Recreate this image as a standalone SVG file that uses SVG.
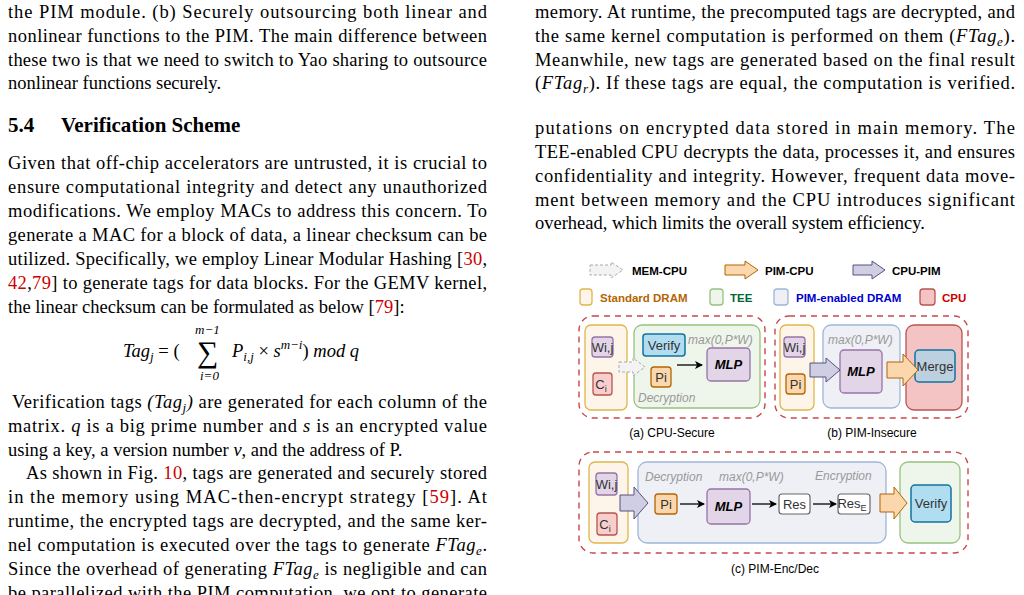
<svg xmlns="http://www.w3.org/2000/svg" width="1024" height="595" viewBox="0 0 1024 595">
<style>
.t{font-family:"Liberation Serif",serif;font-size:18.5px;fill:#000}
.h{font-family:"Liberation Serif",serif;font-size:21px;font-weight:bold}
.r{fill:#cc0000}
.s{font-family:"Liberation Sans",Arial,sans-serif}
.lg{font-size:11.5px;font-weight:bold}
.bx{font-size:13px;fill:#333}
.gi{font-size:12px;font-style:italic;fill:#999}
.cap{font-size:12px;fill:#000}
.dram{fill:#fdf4ea;stroke:#e0b64a;stroke-width:1.3}
.tee{fill:#eef5ea;stroke:#97c27e;stroke-width:1.3}
.pim{fill:#eef0f6;stroke:#9fb5d8;stroke-width:1.3}
.cpu{fill:#f4c4c4;stroke:#b85450;stroke-width:1.3}
.pur{fill:#e1d5e7;stroke:#9673a6;stroke-width:1.3}
.red{fill:#f8cecc;stroke:#b85450;stroke-width:1.3}
.org{fill:#fad7ac;stroke:#b46504;stroke-width:1.3}
.blu{fill:#b1ddf0;stroke:#10739e;stroke-width:1.5}
.wht{fill:#fff;stroke:#666;stroke-width:1.2}
.outer{fill:none;stroke:#c9484b;stroke-width:1.4;stroke-dasharray:6 5}
.ag{fill:#f3f3f3;stroke:#aaa;stroke-dasharray:3 2}
.ao{fill:#fad7ac;stroke:#b46504}
.ap{fill:#d0cee2;stroke:#56517e}
.ln{stroke:#000;stroke-width:1.3;fill:none}
</style>
<defs><marker id="m" markerWidth="8" markerHeight="8" refX="7" refY="4" orient="auto" markerUnits="userSpaceOnUse"><path d="M0,0 L8,4 L0,8 L2,4 Z" fill="#000"/></marker></defs>
<rect width="1024" height="595" fill="#fff"/>

<g id="left-text">
<text class="t" x="8" y="18" textLength="479" lengthAdjust="spacing">the PIM module. (b) Securely outsourcing both linear and</text>
<text class="t" x="8" y="42" textLength="479" lengthAdjust="spacing">nonlinear functions to the PIM. The main difference between</text>
<text class="t" x="8" y="66" textLength="479" lengthAdjust="spacing">these two is that we need to switch to Yao sharing to outsource</text>
<text class="t" x="8" y="89">nonlinear functions securely.</text>
<text class="h" x="8" y="132">5.4</text><text class="h" x="61" y="132">Verification Scheme</text>
<text class="t" x="8" y="169" textLength="479" lengthAdjust="spacing">Given that off-chip accelerators are untrusted, it is crucial to</text>
<text class="t" x="8" y="193" textLength="479" lengthAdjust="spacing">ensure computational integrity and detect any unauthorized</text>
<text class="t" x="8" y="217" textLength="479" lengthAdjust="spacing">modifications. We employ MACs to address this concern. To</text>
<text class="t" x="8" y="241" textLength="479" lengthAdjust="spacing">generate a MAC for a block of data, a linear checksum can be</text>
<text class="t" x="8" y="265" textLength="479" lengthAdjust="spacing">utilized. Specifically, we employ Linear Modular Hashing [<tspan class="r">30</tspan>,</text>
<text class="t" x="8" y="289" textLength="479" lengthAdjust="spacing"><tspan class="r">42</tspan>,<tspan class="r">79</tspan>] to generate tags for data blocks. For the GEMV kernel,</text>
<text class="t" x="8" y="313">the linear checksum can be formulated as below [<tspan class="r">79</tspan>]:</text>
<text class="t" x="123" y="357" font-style="italic">Tag<tspan font-size="13" dy="4">j</tspan><tspan dy="-4" font-style="normal"> = (</tspan></text>
<text class="t" x="197" y="362" style="font-size:30px">∑</text>
<text class="t" x="195" y="334" style="font-size:13px;font-style:italic">m−1</text>
<text class="t" x="200" y="380" style="font-size:13px;font-style:italic">i=0</text>
<text class="t" x="232" y="357"><tspan font-style="italic">P</tspan><tspan font-size="13" font-style="italic" dy="4">i,j</tspan><tspan dy="-4"> × </tspan><tspan font-style="italic">s</tspan><tspan font-size="13" font-style="italic" dy="-8">m−i</tspan><tspan dy="8">) </tspan><tspan font-style="italic">mod q</tspan></text>
<text class="t" x="12" y="408" textLength="475" lengthAdjust="spacing">Verification tags <tspan font-style="italic">(Tag</tspan><tspan font-style="italic" font-size="13" dy="4">j</tspan><tspan font-style="italic" dy="-4">)</tspan> are generated for each column of the</text>
<text class="t" x="8" y="432" textLength="479" lengthAdjust="spacing">matrix. <tspan font-style="italic">q</tspan> is a big prime number and <tspan font-style="italic">s</tspan> is an encrypted value</text>
<text class="t" x="8" y="456">using a key, a version number <tspan font-style="italic">v</tspan>, and the address of P.</text>
<text class="t" x="26" y="479" textLength="461" lengthAdjust="spacing">As shown in Fig. <tspan class="r">10</tspan>, tags are generated and securely stored</text>
<text class="t" x="8" y="503" textLength="479" lengthAdjust="spacing">in the memory using MAC-then-encrypt strategy [<tspan class="r">59</tspan>]. At</text>
<text class="t" x="8" y="527" textLength="479" lengthAdjust="spacing">runtime, the encrypted tags are decrypted, and the same ker-</text>
<text class="t" x="8" y="551" textLength="479" lengthAdjust="spacing">nel computation is executed over the tags to generate <tspan font-style="italic">FTag</tspan><tspan font-style="italic" font-size="13" dy="4">e</tspan><tspan dy="-4">.</tspan></text>
<text class="t" x="8" y="575" textLength="479" lengthAdjust="spacing">Since the overhead of generating <tspan font-style="italic">FTag</tspan><tspan font-style="italic" font-size="13" dy="4">e</tspan><tspan dy="-4"> is negligible and can</tspan></text>
<text class="t" x="8" y="599" textLength="479" lengthAdjust="spacing">be parallelized with the PIM computation, we opt to generate</text>
</g>

<g id="right-text">
<text class="t" x="535" y="18" textLength="480" lengthAdjust="spacing">memory. At runtime, the precomputed tags are decrypted, and</text>
<text class="t" x="535" y="42" textLength="480" lengthAdjust="spacing">the same kernel computation is performed on them (<tspan font-style="italic">FTag</tspan><tspan font-style="italic" font-size="13" dy="4">e</tspan><tspan dy="-4">).</tspan></text>
<text class="t" x="535" y="66" textLength="480" lengthAdjust="spacing">Meanwhile, new tags are generated based on the final result</text>
<text class="t" x="535" y="89" textLength="480" lengthAdjust="spacing">(<tspan font-style="italic">FTag</tspan><tspan font-style="italic" font-size="13" dy="4">r</tspan><tspan dy="-4">). If these tags are equal, the computation is verified.</tspan></text>
<text class="t" x="535" y="134" textLength="480" lengthAdjust="spacing">putations on encrypted data stored in main memory. The</text>
<text class="t" x="535" y="158" textLength="480" lengthAdjust="spacing">TEE-enabled CPU decrypts the data, processes it, and ensures</text>
<text class="t" x="535" y="182" textLength="480" lengthAdjust="spacing">confidentiality and integrity. However, frequent data move-</text>
<text class="t" x="535" y="206" textLength="480" lengthAdjust="spacing">ment between memory and the CPU introduces significant</text>
<text class="t" x="535" y="229">overhead, which limits the overall system efficiency.</text>
</g>

<g id="legend">
<path class="ag" d="M590,265 H611 V262 L623,270 L611,278 V275 H590 Z"/>
<text class="s lg" x="632" y="275">MEM-CPU</text>
<path class="ao" d="M725,265 H745 V261 L758,270 L745,279 V275 H725 Z"/>
<text class="s lg" x="765" y="275">PIM-CPU</text>
<path class="ap" d="M853,265 H872 V261 L885,270 L872,279 V275 H853 Z"/>
<text class="s lg" x="892" y="275">CPU-PIM</text>
<rect class="dram" x="580" y="289" width="12" height="16" rx="3"/>
<text class="s lg" x="600" y="302" fill="#b46504">Standard DRAM</text>
<rect class="tee" x="710" y="289" width="13" height="16" rx="3"/>
<text class="s lg" x="730" y="302" fill="#006633">TEE</text>
<rect class="pim" x="774" y="289" width="14" height="16" rx="3"/>
<text class="s lg" x="796" y="302" fill="#0000cc">PIM-enabled DRAM</text>
<rect class="cpu" x="920" y="289" width="15" height="16" rx="3"/>
<text class="s lg" x="942" y="302" fill="#cc0000">CPU</text>
</g>

<g id="panel-a">
<rect class="outer" x="579" y="316" width="186" height="102" rx="14"/>
<rect class="dram" x="585" y="325" width="42" height="85" rx="6"/>
<g id="a-wij"><rect class="pur" x="592" y="337" width="21" height="20" rx="3"/><text class="s bx" x="602.5" y="352" text-anchor="middle">Wi,j</text></g>
<g id="a-ci"><rect class="red" x="593" y="373" width="19" height="22" rx="3"/><text class="s bx" x="601" y="389" text-anchor="middle">C<tspan font-size="9" dy="3">i</tspan></text></g>
<rect class="tee" x="634" y="325" width="126" height="83" rx="8"/>
<g id="a-verify"><rect class="blu" x="643" y="334" width="42" height="22" rx="3"/><text class="s bx" x="664" y="350" text-anchor="middle">Verify</text></g>
<text class="s gi" x="688" y="344">max(0,P*W)</text>
<g id="a-pi"><rect class="org" x="651" y="367" width="20" height="20" rx="3"/><text class="s bx" x="661" y="382" text-anchor="middle">Pi</text></g>
<g id="a-mlp"><rect class="pur" x="707" y="348" width="43" height="33" rx="4"/><text class="s" x="728.5" y="369" text-anchor="middle" font-size="13" font-weight="bold" font-style="italic">MLP</text></g>
<text class="s gi" x="638" y="402">Decryption</text>
<text class="s cap" x="672" y="437" text-anchor="middle">(a) CPU-Secure</text>
</g>

<g id="panel-b">
<rect class="outer" x="775" y="316" width="193" height="102" rx="14"/>
<rect class="dram" x="780" y="325" width="34" height="85" rx="6"/>
<g id="b-wij"><rect class="pur" x="784" y="337" width="21" height="20" rx="3"/><text class="s bx" x="794.5" y="352" text-anchor="middle">Wi,j</text></g>
<g id="b-pi"><rect class="org" x="786" y="374" width="19" height="20" rx="3"/><text class="s bx" x="795.5" y="389" text-anchor="middle">Pi</text></g>
<rect class="pim" x="823" y="325" width="77" height="83" rx="8"/>
<text class="s gi" x="828" y="344">max(0,P*W)</text>
<g id="b-mlp"><rect class="pur" x="840" y="350" width="42" height="43" rx="4"/><text class="s" x="861" y="376" text-anchor="middle" font-size="13" font-weight="bold" font-style="italic">MLP</text></g>
<rect class="cpu" x="906" y="325" width="56" height="85" rx="8"/>
<g id="b-merge"><rect class="blu" x="915" y="350" width="40" height="32" rx="4" style="fill:#bcd0e0"/><text class="s bx" x="935" y="371" text-anchor="middle">Merge</text></g>
<text class="s cap" x="872" y="437" text-anchor="middle">(b) PIM-Insecure</text>
</g>

<g id="panel-c">
<rect class="outer" x="579" y="452" width="389" height="101" rx="14"/>
<rect class="dram" x="589" y="462" width="39" height="81" rx="6"/>
<g id="c-wij"><rect class="pur" x="596" y="473" width="21" height="22" rx="3"/><text class="s bx" x="606.5" y="489" text-anchor="middle">Wi,j</text></g>
<g id="c-ci"><rect class="red" x="597" y="513" width="20" height="22" rx="3"/><text class="s bx" x="605" y="529" text-anchor="middle">C<tspan font-size="9" dy="3">i</tspan></text></g>
<rect class="pim" x="638" y="462" width="248" height="81" rx="9"/>
<text class="s gi" x="645" y="481">Decryption</text>
<text class="s gi" x="719" y="481">max(0,P*W)</text>
<text class="s gi" x="815" y="480">Encryption</text>
<g id="c-pi"><rect class="org" x="655" y="494" width="22" height="20" rx="3"/><text class="s bx" x="666" y="509" text-anchor="middle">Pi</text></g>
<g id="c-mlp"><rect class="pur" x="707" y="489" width="43" height="35" rx="4"/><text class="s" x="728.5" y="511" text-anchor="middle" font-size="13" font-weight="bold" font-style="italic">MLP</text></g>
<g id="c-res"><rect class="wht" x="779" y="494" width="31" height="20" rx="3"/><text class="s bx" x="794.5" y="509" text-anchor="middle">Res</text></g>
<g id="c-rese"><rect class="wht" x="838" y="494" width="32" height="20" rx="3"/><text class="s bx" x="852" y="508" text-anchor="middle">Res<tspan font-size="9" dy="3">E</tspan></text></g>
<rect class="tee" x="900" y="462" width="60" height="81" rx="8"/>
<g id="c-verify"><rect class="blu" x="911" y="485" width="40" height="37" rx="4"/><text class="s bx" x="931" y="508" text-anchor="middle">Verify</text></g>
<text class="s cap" x="775" y="573" text-anchor="middle">(c) PIM-Enc/Dec</text>
</g>

<g id="connectors">
<path class="ag" d="M619,362 H633 V358 L645,367 L633,376 V372 H619 Z"/>
<line class="ln" x1="677" y1="365" x2="702" y2="365" marker-end="url(#m)"/>
<path class="ap" d="M810,363 H826 V358 L840,370 L826,382 V377 H810 Z"/>
<path class="ao" d="M887,362 H903 V354 L918,370 L903,386 V378 H887 Z"/>
<path class="ap" d="M620,495 H634 V487 L648,503 L634,519 V511 H620 Z"/>
<line class="ln" x1="680" y1="504" x2="704" y2="504" marker-end="url(#m)"/>
<line class="ln" x1="752" y1="504" x2="776" y2="504" marker-end="url(#m)"/>
<line class="ln" x1="813" y1="504" x2="836" y2="504" marker-end="url(#m)"/>
<path class="ao" d="M880,494 H894 V487 L907,503 L894,519 V512 H880 Z"/>
</g>
</svg>
